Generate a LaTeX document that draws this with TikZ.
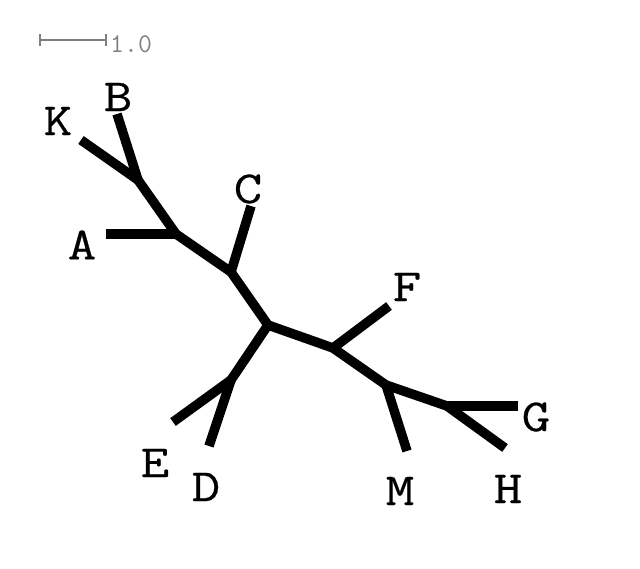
\documentclass[tikz,border=0pt]{standalone}
\usepackage{fontspec}
\usepackage{tikz}
\usetikzlibrary{calc}
\newfontfamily\taxonfont[FakeBold=0.5,FakeStretch=1.2]{Latin Modern Mono}
\definecolor{scalegray}{HTML}{808080}

\begin{document}
\begin{tikzpicture}[x=1pt,y=-1pt,
    branch/.style={line width=9.5pt},
    taxon/.style={font=\fontsize{46}{46}\taxonfont, inner sep=0pt}]
    \useasboundingbox (0,0) rectangle (640,568);
    % scale bar
    \coordinate (s0) at (40,40);
    \coordinate (s1) at (106,40);
    \draw[scalegray,line width=1.5pt] (s0) -- (s1);
    \draw[scalegray,line width=1.5pt] ($(s0)+(0,-6)$) -- ($(s0)+(0,6)$);
    \draw[scalegray,line width=1.5pt] ($(s1)+(0,-6)$) -- ($(s1)+(0,6)$);
    \node[scalegray,font=\fontsize{27}{27}\ttfamily,inner sep=0pt,anchor=base west] (len) at (110,52) {1.0};
    % inner branch points
    \coordinate (root) at (268,325);
    \coordinate (iC) at (231,272);
    \coordinate (iA) at (176,234);
    \coordinate (iKB) at (138,180);
    \coordinate (iED) at (231,380);
    \coordinate (iF) at (333,348);
    \coordinate (iM) at (386,385);
    \coordinate (iGH) at (447,406);
    % tips
    \coordinate (tK) at (81,140);
    \coordinate (tB) at (117,114);
    \coordinate (tA) at (106,234);
    \coordinate (tC) at (251,206);
    \coordinate (tE) at (173,422);
    \coordinate (tD) at (209,446);
    \coordinate (tF) at (389,306);
    \coordinate (tM) at (407,451);
    \coordinate (tG) at (518,406);
    \coordinate (tH) at (505,448);
    % branches
    \draw[branch] (root) -- (iC);
    \draw[branch] (iC) -- (iA);
    \draw[branch] (iA) -- (iKB);
    \draw[branch] (iKB) -- (tK);
    \draw[branch] (iKB) -- (tB);
    \draw[branch] (iA) -- (tA);
    \draw[branch] (iC) -- (tC);
    \draw[branch] (root) -- (iED);
    \draw[branch] (iED) -- (tE);
    \draw[branch] (iED) -- (tD);
    \draw[branch] (root) -- (iF);
    \draw[branch] (iF) -- (tF);
    \draw[branch] (iF) -- (iM);
    \draw[branch] (iM) -- (tM);
    \draw[branch] (iM) -- (iGH);
    \draw[branch] (iGH) -- (tG);
    \draw[branch] (iGH) -- (tH);
    % labels
    \node[taxon] (K) at (58,121) {K};
    \node[taxon] (B) at (118,97) {B};
    \node[taxon] (A) at (82,245) {A};
    \node[taxon] (C) at (248,189) {C};
    \node[taxon] (E) at (155,463) {E};
    \node[taxon] (D) at (206,487) {D};
    \node[taxon] (F) at (407,287) {F};
    \node[taxon] (G) at (536,417) {G};
    \node[taxon] (M) at (400,491) {M};
    \node[taxon] (H) at (508,489) {H};
\end{tikzpicture}
\end{document}
